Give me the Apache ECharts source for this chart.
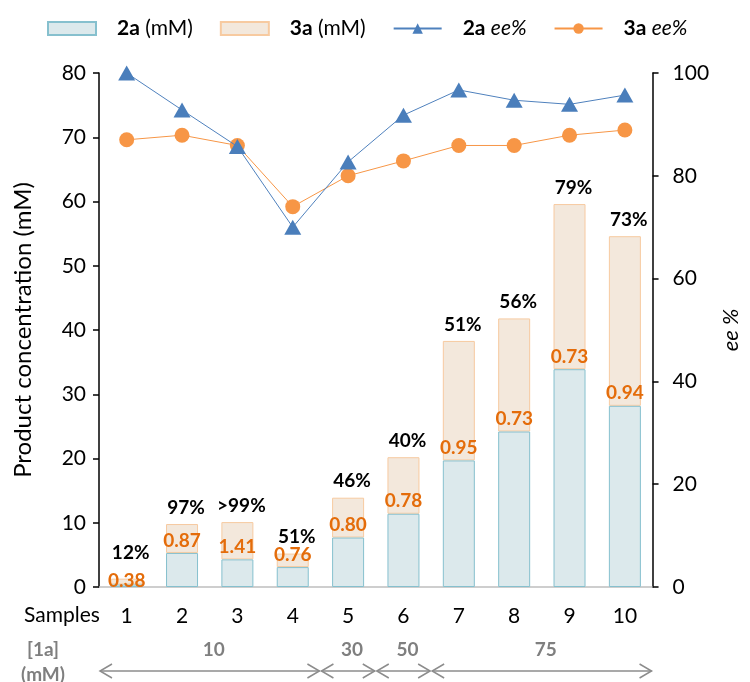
<!DOCTYPE html>
<html>
<head>
<meta charset="utf-8">
<script src="https://cdn.jsdelivr.net/npm/echarts@6/dist/echarts.min.js"></script>
<style>
html,body{margin:0;padding:0;background:#fff;}
#main{width:750px;height:682px;}
</style>
</head>
<body>
<div id="main"></div>
<script>
// ---- data ----
const categories = ['1','2','3','4','5','6','7','8','9','10'];
const conc2a = [0.4, 5.3, 4.3, 3.1, 7.7, 11.4, 19.7, 24.2, 33.9, 28.2];
const conc3a = [0.9, 4.5, 5.8, 2.1, 6.2, 8.8, 18.6, 17.6, 25.7, 26.4];
const ee2a = [100, 92.8, 85.7, 70.0, 82.7, 91.8, 96.7, 94.7, 93.9, 95.7];
const ee3a = [87.0, 87.9, 85.9, 74.0, 80.0, 82.9, 85.9, 85.9, 87.9, 88.9];
const totalLabels = ['12%','97%','>99%','51%','46%','40%','51%','56%','79%','73%'];
const ratioLabels = ['0.38','0.87','1.41','0.76','0.80','0.78','0.95','0.73','0.73','0.94'];
const leftTicks = [0, 10, 20, 30, 40, 50, 60, 70, 80];
const rightTicks = [0, 20, 40, 60, 80, 100];
const concGroupLabels = ['10', '30', '50', '75'];
const concGroupStart = [0, 4, 5, 6];
const concGroupEnd = [3, 4, 5, 9];

const FONT = 'Lato, "Open Sans", sans-serif';
const chart = echarts.init(document.getElementById('main'), null, {renderer: 'canvas'});

const legendNames = {
  '2a (mM)': '{b|2a} (mM)',
  '3a (mM)': '{b|3a} (mM)',
  '2a ee%': '{b|2a} {i|ee%}',
  '3a ee%': '{b|3a} {i|ee%}'
};

// per-bar label distances (style only)
const totalLabelData = conc3a.map((v, i) => ({
  value: v,
  label: {distance: i === 0 ? 16 : 7}
}));
const ratioLabelData = conc2a.map((v, i) => ({
  value: v,
  label: i === 0 ? {distance: -6} : {}
}));

const option = {
  animation: false,
  textStyle: {fontFamily: FONT},
  legend: {
    left: 42, top: 13,
    itemGap: 27,
    itemWidth: 48, itemHeight: 13,
    data: [
      {name: '2a (mM)', icon: 'rect'},
      {name: '3a (mM)', icon: 'rect'},
      {name: '2a ee%'},
      {name: '3a ee%'}
    ],
    formatter: n => legendNames[n],
    textStyle: {
      fontFamily: FONT, fontSize: 21, color: '#000',
      padding: [0, 0, 0, 16],
      rich: {
        b: {fontFamily: FONT, fontSize: 21, fontWeight: 'bold', color: '#000'},
        i: {fontFamily: FONT, fontSize: 21, fontStyle: 'italic', color: '#000'}
      }
    }
  },
  grid: {left: 99, right: 88, top: 73, bottom: 95, containLabel: false},
  xAxis: {
    type: 'category',
    data: categories,
    axisLine: {lineStyle: {color: '#bfbfbf', width: 1.5}},
    axisTick: {show: false},
    axisLabel: {color: '#000', fontSize: 21, fontFamily: FONT, margin: 19}
  },
  yAxis: [
    {
      type: 'value', min: leftTicks[0], max: leftTicks[leftTicks.length - 1], interval: 10,
      name: 'Product concentration (mM)', nameLocation: 'middle', nameGap: 64,
      nameTextStyle: {fontSize: 24, color: '#000', fontFamily: FONT},
      axisLine: {show: true, lineStyle: {color: '#000', width: 1.5}},
      axisTick: {show: true, inside: false, length: 6, lineStyle: {color: '#000', width: 1.5}},
      axisLabel: {color: '#000', fontSize: 21, fontFamily: FONT, margin: 13},
      splitLine: {show: false}
    },
    {
      type: 'value', min: rightTicks[0], max: rightTicks[rightTicks.length - 1], interval: 20,
      position: 'right',
      name: 'ee %', nameLocation: 'middle', nameGap: 64,
      nameTextStyle: {fontSize: 22, color: '#000', fontStyle: 'italic', fontFamily: FONT},
      axisLine: {show: true, lineStyle: {color: '#000', width: 1.5}},
      axisTick: {show: true, inside: false, length: 6, lineStyle: {color: '#000', width: 1.5}},
      axisLabel: {color: '#000', fontSize: 21, fontFamily: FONT, margin: 20},
      splitLine: {show: false}
    }
  ],
  series: [
    {
      name: '2a (mM)', type: 'bar', stack: 'c', barWidth: 32, z: 3,
      data: ratioLabelData,
      itemStyle: {color: '#dce9ec', borderColor: '#86c0ce', borderWidth: 1},
      label: {
        show: true, position: 'top', distance: 3,
        formatter: p => ratioLabels[p.dataIndex],
        color: '#e46c0a', fontWeight: 'bold', fontSize: 19, fontFamily: FONT
      }
    },
    {
      name: '3a (mM)', type: 'bar', stack: 'c', barWidth: 32,
      data: totalLabelData,
      itemStyle: {color: '#f3e8dc', borderColor: '#f7caa0', borderWidth: 1},
      label: {
        show: true, position: 'top', distance: 7, offset: [4, 0],
        formatter: p => totalLabels[p.dataIndex],
        color: '#000', fontWeight: 'bold', fontSize: 19, fontFamily: FONT
      }
    },
    {
      name: '2a ee%', type: 'line', yAxisIndex: 1, z: 5,
      data: ee2a, clip: false,
      symbol: 'triangle', symbolSize: [17, 15],
      lineStyle: {color: '#4f81bd', width: 1},
      itemStyle: {color: '#4a7ebb'}
    },
    {
      name: '3a ee%', type: 'line', yAxisIndex: 1, z: 4,
      data: ee3a, clip: false,
      symbol: 'circle', symbolSize: 15,
      lineStyle: {color: '#f79646', width: 1},
      itemStyle: {color: '#f79646'}
    }
  ]
};
chart.setOption(option);

// ---- annotation below the axis, positioned from the category scale ----
const c0 = chart.convertToPixel({xAxisIndex: 0}, 0);
const c1 = chart.convertToPixel({xAxisIndex: 0}, 1);
const band = c1 - c0;
const rowY = 650, arrowY = 671;
const gray = '#7f7f7f';
const elems = [];
elems.push({type: 'text', left: 24, top: 605, style: {text: 'Samples', font: '21px ' + FONT, fill: '#000'}});
elems.push({type: 'text', x: 43, y: rowY, style: {text: '[1a]', font: 'bold 19px ' + FONT, fill: gray, align: 'center', verticalAlign: 'middle'}});
elems.push({type: 'text', x: 43, y: 675, style: {text: '(mM)', font: 'bold 19px ' + FONT, fill: gray, align: 'center', verticalAlign: 'middle'}});
for (let g = 0; g < concGroupLabels.length; g++) {
  const xa = chart.convertToPixel({xAxisIndex: 0}, concGroupStart[g]) - band / 2 + 1;
  const xb = chart.convertToPixel({xAxisIndex: 0}, concGroupEnd[g]) + band / 2 - 1;
  const st = {stroke: '#8c8c8c', lineWidth: 1.5, fill: null};
  elems.push({type: 'polyline', shape: {points: [[xa, arrowY], [xb, arrowY]]}, style: st});
  elems.push({type: 'polyline', shape: {points: [[xa + 12, arrowY - 7], [xa, arrowY], [xa + 12, arrowY + 7]]}, style: st});
  elems.push({type: 'polyline', shape: {points: [[xb - 12, arrowY - 7], [xb, arrowY], [xb - 12, arrowY + 7]]}, style: st});
  elems.push({type: 'text', x: (xa + xb) / 2 + 4, y: rowY, style: {text: concGroupLabels[g], font: 'bold 19px ' + FONT, fill: gray, align: 'center', verticalAlign: 'middle'}});
}
chart.setOption({graphic: elems});
</script>
</body>
</html>
